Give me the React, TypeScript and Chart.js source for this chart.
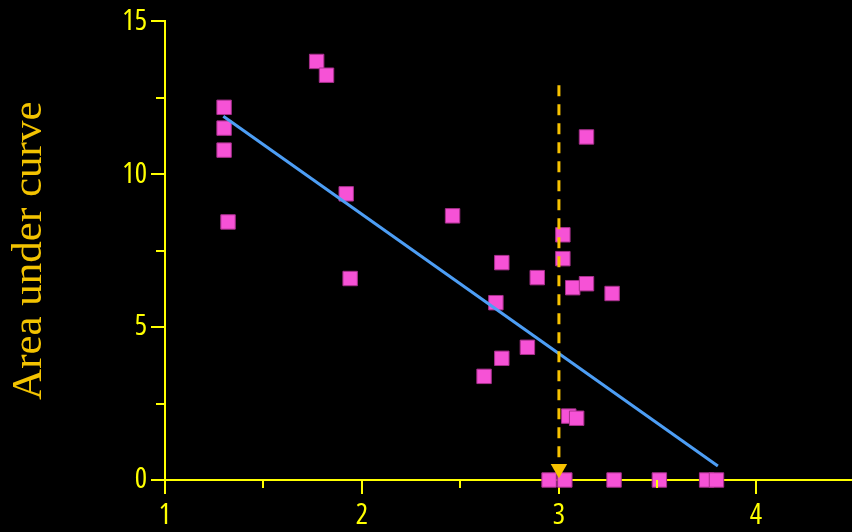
import React, { useEffect, useRef } from 'react';
import { Chart, registerables } from 'chart.js';

Chart.register(...registerables);

// Data
const xValues = [1.30, 1.30, 1.30, 1.32, 1.77, 1.82, 1.92, 1.94, 2.46, 2.71, 2.68, 2.89, 2.84, 2.71, 2.62, 3.02, 3.02, 3.07, 3.14, 3.27, 3.14, 3.05, 3.09, 2.95, 3.03, 3.28, 3.51, 3.75, 3.80];
const yValues = [12.19, 11.51, 10.79, 8.44, 13.69, 13.24, 9.36, 6.59, 8.64, 7.11, 5.80, 6.62, 4.34, 3.98, 3.39, 8.02, 7.24, 6.29, 6.42, 6.10, 11.22, 2.09, 2.02, 0, 0, 0, 0, 0, 0];
const fitX = [1.296, 3.807];
const fitY = [11.9, 0.46];
const cutoffX = [3, 3];
const cutoffY = [12.91, 0.55];
const arrowX = [3];
const arrowY = [0.37];
const xTicks = [1, 2, 3, 4];
const xMinorTicks = [1.5, 2.5, 3.5];
const yTicks = [0, 5, 10, 15];
const yMinorTicks = [2.5, 7.5, 12.5];
const yTitle = 'Area under curve';

const AXIS = '#ffff00';
const TITLE = '#f3c300';
const GOLD = '#f7c200';
const PINK = '#f652d6';
const PINK_BORDER = '#a8308c';
const BLUE = '#4d9ef5';
const TICK_FONT = "'Open Sans', sans-serif";
const TITLE_FONT = "'Liberation Serif', 'Times New Roman', serif";

const toXY = (xs: number[], ys: number[]) => xs.map((x, i) => ({ x, y: ys[i] }));

const minorTicksPlugin = {
  id: 'minorTicks',
  afterDraw(chart: any) {
    const { ctx, chartArea } = chart;
    const x = chart.scales.x;
    const y = chart.scales.y;
    ctx.save();
    ctx.strokeStyle = AXIS;
    ctx.lineWidth = 2;
    ctx.beginPath();
    xMinorTicks.forEach((v) => {
      const px = Math.round(x.getPixelForValue(v));
      ctx.moveTo(px, chartArea.bottom);
      ctx.lineTo(px, chartArea.bottom + 8);
    });
    yMinorTicks.forEach((v) => {
      const py = Math.round(y.getPixelForValue(v));
      ctx.moveTo(chartArea.left, py);
      ctx.lineTo(chartArea.left - 9, py);
    });
    ctx.stroke();
    ctx.restore();
  },
};

export default function App() {
  const ref = useRef<HTMLCanvasElement | null>(null);

  useEffect(() => {
    if (!ref.current) return;
    const chart = new Chart(ref.current, {
      type: 'scatter',
      data: {
        datasets: [
          {
            label: 'arrow',
            data: toXY(arrowX, arrowY),
            pointStyle: 'triangle',
            rotation: 180,
            pointRadius: 9.5,
            backgroundColor: GOLD,
            borderColor: GOLD,
            borderWidth: 0,
            showLine: false,
            clip: false,
          },
          {
            label: 'cutoff',
            data: toXY(cutoffX, cutoffY),
            showLine: true,
            borderColor: GOLD,
            borderWidth: 3,
            borderDash: [11, 8],
            pointRadius: 0,
            clip: false,
          },
          {
            label: 'fit',
            data: toXY(fitX, fitY),
            showLine: true,
            borderColor: BLUE,
            borderWidth: 3,
            pointRadius: 0,
            clip: false,
          },
          {
            label: 'points',
            data: toXY(xValues, yValues),
            pointStyle: 'rect',
            pointRadius: 10.2,
            backgroundColor: PINK,
            borderColor: PINK_BORDER,
            borderWidth: 1,
            showLine: false,
            clip: false,
          },
        ],
      } as any,
      options: {
        responsive: false,
        animation: false,
        layout: { autoPadding: false, padding: { top: 20, right: 0, bottom: 0, left: 0 } },
        plugins: {
          legend: { display: false },
          tooltip: { enabled: false },
        },
        scales: {
          x: {
            type: 'linear',
            min: 1,
            max: 4.488,
            z: 1,
            afterBuildTicks: (s: any) => {
              s.ticks = xTicks.map((v) => ({ value: v }));
            },
            afterFit: (s: any) => {
              s.height = 52;
              s.paddingRight = 0;
              s.paddingLeft = 0;
            },
            grid: {
              drawOnChartArea: false,
              drawTicks: true,
              tickLength: 14,
              color: AXIS,
              lineWidth: 2,
            },
            border: { display: true, color: AXIS, width: 2 },
            ticks: {
              color: AXIS,
              font: { family: TICK_FONT, size: 29, weight: 'condensed' },
              padding: 4,
              maxRotation: 0,
              autoSkip: false,
            },
          },
          y: {
            type: 'linear',
            min: 0,
            max: 15,
            z: 1,
            afterBuildTicks: (s: any) => {
              s.ticks = yTicks.map((v) => ({ value: v }));
            },
            afterFit: (s: any) => {
              s.width = 165;
            },
            grid: {
              drawOnChartArea: false,
              drawTicks: true,
              tickLength: 14,
              color: AXIS,
              lineWidth: 2,
            },
            border: { display: true, color: AXIS, width: 2 },
            ticks: {
              color: AXIS,
              font: { family: TICK_FONT, size: 29, weight: 'condensed' },
              padding: 4,
              autoSkip: false,
            },
            title: {
              display: true,
              text: yTitle,
              color: TITLE,
              font: { family: TITLE_FONT, size: 43 },
              padding: { top: 4, bottom: 0 },
            },
          },
        },
      } as any,
      plugins: [minorTicksPlugin],
    });
    return () => chart.destroy();
  }, []);

  return (
    <div style={{ position: 'fixed', left: 0, top: 0, width: 852, height: 532, background: '#000' }}>
      <canvas ref={ref} width={852} height={532} style={{ display: 'block' }} />
    </div>
  );
}
